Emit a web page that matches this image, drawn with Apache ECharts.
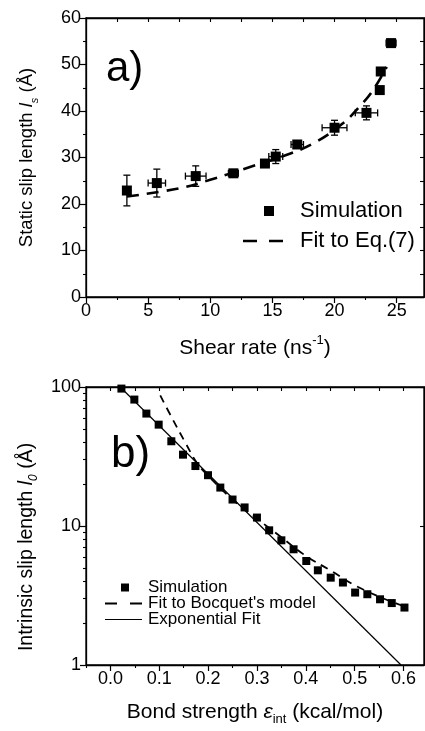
<!DOCTYPE html>
<html>
<head>
<meta charset="utf-8">
<script src="https://cdn.jsdelivr.net/npm/echarts@6/dist/echarts.min.js"></script>
<style>
  html, body { margin: 0; padding: 0; background: #fff; }
  #chart { width: 425px; height: 731px; }
</style>
</head>
<body>
<div id="chart"></div>
<script>
// panel a) static slip length vs shear rate
const simX = [3.29, 5.7, 8.83, 11.86, 14.4, 15.27, 17.0, 20.0, 22.57, 23.64, 23.72, 24.55]
const simY = [22.9, 24.5, 26.0, 26.6, 28.7, 30.2, 32.8, 36.4, 39.6, 44.5, 48.5, 54.6]
const simErrX = [0, 0.7, 0.83, 0.4, 0.3, 0.56, 0.5, 1.0, 0.9, 0.2, 0.2, 0.4]
const simErrY = [3.3, 3.0, 2.2, 0.7, 0.6, 1.5, 0.6, 1.6, 1.5, 0.6, 0.7, 0.8]
const fitX = [3.3, 7.57, 10, 12.9, 16.4, 18.55, 20.7, 22.0, 23.1, 24.2]
const fitY = [21.6, 23.4, 25.2, 27.7, 30.8, 33.4, 37.4, 40.9, 44.5, 49.5]

// panel b) intrinsic slip length vs bond strength
const bondX = [0.0225, 0.049, 0.0736, 0.0988, 0.1247, 0.1486, 0.174, 0.1998, 0.225, 0.25, 0.2747, 0.3,
  0.325, 0.35, 0.375, 0.401, 0.4247, 0.451, 0.476, 0.501, 0.526, 0.552, 0.576, 0.602]
const bondY = [97.4, 81.2, 64.4, 53.6, 40.7, 32.6, 27.0, 23.2, 18.9, 15.5, 13.6, 11.5,
  9.31, 7.89, 6.8, 5.6, 4.8, 4.25, 3.92, 3.32, 3.23, 2.97, 2.79, 2.59]
const bocX = [0.102, 0.127, 0.153, 0.177, 0.2, 0.25, 0.3, 0.35, 0.4, 0.45, 0.5, 0.55, 0.6]
const bocY = [87, 59, 40, 28.5, 23, 15.5, 11.3, 8.3, 6.1, 4.8, 3.75, 3.1, 2.65]
const expX = [0.02, 0.595]
const expY = [100, 1]

// ticks
const shearMajor = [0, 5, 10, 15, 20, 25]
const shearMinor = [2.5, 7.5, 12.5, 17.5, 22.5]
const slipMajor = [0, 10, 20, 30, 40, 50, 60]
const slipMinor = [5, 15, 25, 35, 45, 55]
const bondMajor = [0, 0.1, 0.2, 0.3, 0.4, 0.5, 0.6]
const bondMinor = [-0.05, 0.05, 0.15, 0.25, 0.35, 0.45, 0.55]
const logMajor = [1, 10, 100]
const logMinor = [2, 3, 4, 5, 6, 7, 8, 9, 20, 30, 40, 50, 60, 70, 80, 90]

const FONT = 'Liberation Sans'
const zip = (a, b) => a.map((v, i) => [v, b[i]])

function axisSet(dim, gridIndex, type, min, max, major, minor, fmt, name, nameOpt) {
  const bottomPos = dim === 'x' ? 'bottom' : 'left'
  const otherPos = dim === 'x' ? 'top' : 'right'
  const main = Object.assign({
    type: type,
    gridIndex: gridIndex,
    position: bottomPos,
    min: min,
    max: max,
    name: name,
    nameLocation: 'middle',
    axisLine: { show: true, onZero: false, lineStyle: { color: '#000', width: 1.3 } },
    axisTick: { show: true, inside: false, length: 6, customValues: major, lineStyle: { color: '#000', width: 1.2 } },
    axisLabel: { show: true, customValues: major, formatter: fmt, color: '#000', fontSize: 18, fontFamily: FONT, margin: 5 },
    splitLine: { show: false }
  }, nameOpt)
  if (type === 'log') main.logBase = 10
  const minorAx = {
    type: type, gridIndex: gridIndex, position: bottomPos, min: min, max: max,
    axisLine: { show: false, onZero: false },
    axisTick: { show: true, inside: false, length: 3, customValues: minor, lineStyle: { color: '#000', width: 1.1 } },
    axisLabel: { show: false }, splitLine: { show: false }
  }
  // mirrored ticks on the opposite frame edge (log axis: majors only)
  const mirrorTicks = type === 'log' ? major : major.concat(minor)
  const mirror = {
    type: type, gridIndex: gridIndex, position: otherPos, min: min, max: max,
    axisLine: { show: true, onZero: false, lineStyle: { color: '#000', width: 1.3 } },
    axisTick: { show: true, inside: true, length: 4, customValues: mirrorTicks, lineStyle: { color: '#000', width: 1.1 } },
    axisLabel: { show: false }, splitLine: { show: false }
  }
  if (type === 'log') { minorAx.logBase = 10; mirror.logBase = 10 }
  return [main, minorAx, mirror]
}

function nameStyle(size, extra) {
  const small = Math.round(size * 0.62)
  return Object.assign({
    color: '#000', fontSize: size, fontFamily: FONT,
    rich: {
      i: { fontSize: size, fontStyle: 'italic', fontFamily: FONT, color: '#000' },
      sub: { fontSize: small, fontStyle: 'italic', fontFamily: FONT, color: '#000', verticalAlign: 'bottom', lineHeight: size + 7 },
      subn: { fontSize: small, fontFamily: FONT, color: '#000', verticalAlign: 'bottom', lineHeight: size + 7 },
      sup: { fontSize: small, fontFamily: FONT, color: '#000', verticalAlign: 'top', lineHeight: size + 7 }
    }
  }, extra)
}

const xAxes = [].concat(
  axisSet('x', 0, 'value', 0, 27.2, shearMajor, shearMinor, v => String(v),
    'Shear rate (ns{sup|-1})', { nameGap: 37, nameTextStyle: nameStyle(21) }),
  axisSet('x', 1, 'value', -0.05, 0.642, bondMajor, bondMinor, v => v.toFixed(1),
    'Bond strength {i|ε}{subn|int} (kcal/mol)', { nameGap: 33, nameTextStyle: nameStyle(21) })
)
const yAxes = [].concat(
  axisSet('y', 0, 'value', 0, 60, slipMajor, slipMinor, v => String(v),
    'Static slip length {i|l}{sub|s} (Å)', { nameGap: 46, nameTextStyle: nameStyle(18.5) }),
  axisSet('y', 1, 'log', 1, 100, logMajor, logMinor, v => String(v),
    'Intrinsic slip length {i|l}{sub|0} (Å)', { nameGap: 46, nameTextStyle: nameStyle(19.5, { padding: [0, 42, 0, 0] }) })
)

function renderErr(params, api) {
  const x = api.value(0)
  const y = api.value(1)
  const ex = api.value(2)
  const ey = api.value(3)
  const c = api.coord([x, y])
  const cap = 3.5
  const style = { stroke: '#000', lineWidth: 1.3, fill: null }
  const kids = []
  if (ey > 0) {
    const t = api.coord([x, y + ey])
    const b = api.coord([x, y - ey])
    kids.push({ type: 'line', shape: { x1: c[0], y1: t[1], x2: c[0], y2: b[1] }, style: style })
    kids.push({ type: 'line', shape: { x1: c[0] - cap, y1: t[1], x2: c[0] + cap, y2: t[1] }, style: style })
    kids.push({ type: 'line', shape: { x1: c[0] - cap, y1: b[1], x2: c[0] + cap, y2: b[1] }, style: style })
  }
  if (ex > 0) {
    const l = api.coord([x - ex, y])
    const r = api.coord([x + ex, y])
    kids.push({ type: 'line', shape: { x1: l[0], y1: c[1], x2: r[0], y2: c[1] }, style: style })
    kids.push({ type: 'line', shape: { x1: l[0], y1: c[1] - cap, x2: l[0], y2: c[1] + cap }, style: style })
    kids.push({ type: 'line', shape: { x1: r[0], y1: c[1] - cap, x2: r[0], y2: c[1] + cap }, style: style })
  }
  return { type: 'group', children: kids }
}

const errData = simX.map((x, i) => [x, simY[i], simErrX[i], simErrY[i]])

// legend icons (first two moveTo's pin the icon box)
const iconSquareA = 'path://M0,0M40,12M21,1h10v10h-10z'
const iconDashA = 'path://M0,0M40,12M0,4.7h14v2.6h-14zM26,4.7h14v2.6h-14z'
const iconSquareB = 'path://M0,0M37,9M16,0.5h8v8h-8z'
const iconDashB = 'path://M0,0M37,9M0,3.6h12v1.8h-12zM25,3.6h12v1.8h-12z'
const iconSolidB = 'path://M0,0M37,9M0,3.9h37v1.2h-37z'

const option = {
  animation: false,
  backgroundColor: '#fff',
  textStyle: { fontFamily: FONT },
  grid: [
    { left: 86, top: 18, width: 338, height: 279, show: true, borderColor: '#000', borderWidth: 1.3, backgroundColor: 'transparent' },
    { left: 86, top: 387, width: 338, height: 278, show: true, borderColor: '#000', borderWidth: 1.3, backgroundColor: 'transparent' }
  ],
  xAxis: xAxes,
  yAxis: yAxes,
  legend: [
    {
      orient: 'vertical', left: 243, top: 200, padding: 0, itemGap: 8, itemWidth: 40, itemHeight: 12,
      data: [{ name: 'Simulation', icon: iconSquareA }, { name: 'Fit to Eq.(7)', icon: iconDashA }],
      itemStyle: { color: '#000', opacity: 1 },
      textStyle: { fontSize: 22, fontFamily: FONT, color: '#000', padding: [0, 0, 0, 12] }
    },
    {
      orient: 'vertical', left: 105, top: 579, padding: 0, itemGap: -1, itemWidth: 37, itemHeight: 9,
      data: [
        { name: 'Simulation', icon: iconSquareB },
        { name: "Fit to Bocquet's model", icon: iconDashB },
        { name: 'Exponential Fit', icon: iconSolidB }
      ],
      itemStyle: { color: '#000', opacity: 1 },
      textStyle: { fontSize: 17, fontFamily: FONT, color: '#000', padding: [0, 0, 0, 1] }
    }
  ],
  graphic: [
    { type: 'text', left: 106, top: 48, style: { text: 'a)', font: '42px "Liberation Sans"', fill: '#000' } },
    { type: 'text', left: 111, top: 433, style: { text: 'b)', font: '44px "Liberation Sans"', fill: '#000' } }
  ],
  series: [
    {
      type: 'custom', name: 'errbars', xAxisIndex: 0, yAxisIndex: 0,
      renderItem: renderErr, data: errData, encode: { x: 0, y: 1 }, z: 2, silent: true
    },
    {
      type: 'line', name: 'Fit to Eq.(7)', xAxisIndex: 0, yAxisIndex: 0,
      data: zip(fitX, fitY), smooth: 0.4, showSymbol: false, symbol: 'none',
      lineStyle: { color: '#000', width: 2.6, type: [12, 8] }, itemStyle: { color: '#000' }, z: 3
    },
    {
      type: 'scatter', name: 'Simulation', xAxisIndex: 0, yAxisIndex: 0,
      data: zip(simX, simY), symbol: 'rect', symbolSize: 10,
      itemStyle: { color: '#000', opacity: 1 }, z: 4
    },
    {
      type: 'line', name: 'Exponential Fit', xAxisIndex: 3, yAxisIndex: 3,
      data: zip(expX, expY), showSymbol: false, symbol: 'none',
      lineStyle: { color: '#000', width: 1.2 }, itemStyle: { color: '#000' }, z: 3
    },
    {
      type: 'line', name: "Fit to Bocquet's model", xAxisIndex: 3, yAxisIndex: 3,
      data: zip(bocX, bocY), smooth: 0.4, showSymbol: false, symbol: 'none',
      lineStyle: { color: '#000', width: 1.8, type: [8, 6] }, itemStyle: { color: '#000' }, z: 3
    },
    {
      type: 'scatter', name: 'Simulation', xAxisIndex: 3, yAxisIndex: 3,
      data: zip(bondX, bondY), symbol: 'rect', symbolSize: 8,
      itemStyle: { color: '#000', opacity: 1 }, z: 4
    }
  ]
}

const chart = echarts.init(document.getElementById('chart'), null, { renderer: 'canvas' })
chart.setOption(option)
window.addEventListener('resize', () => {
  chart && chart.resize()
})
</script>
</body>
</html>
